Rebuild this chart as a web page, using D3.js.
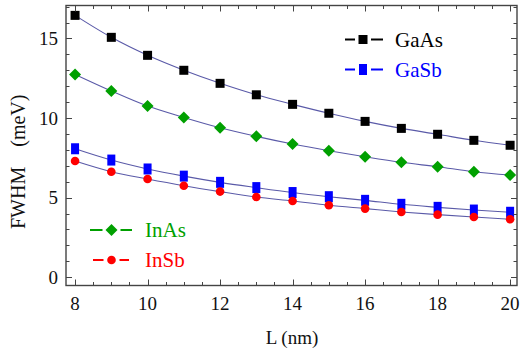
<!DOCTYPE html>
<html>
<head>
<meta charset="utf-8">
<script src="https://cdn.jsdelivr.net/npm/d3@7"></script>
<style>
  html, body { margin: 0; padding: 0; background: #fff; }
  svg { display: block; font-family: "Liberation Serif", "DejaVu Serif", serif; }
</style>
</head>
<body>
<svg id="chart" width="520" height="352"></svg>
<script>
// Well width L (nm)
const widths = [8, 9, 10, 11, 12, 13, 14, 15, 16, 17, 18, 19, 20];

// FWHM (meV) for each material
const gaAs = [16.45, 15.07, 13.94, 13.0, 12.18, 11.46, 10.86, 10.3, 9.79, 9.35, 8.98, 8.6, 8.29];
const inAs = [12.74, 11.7, 10.75, 10.04, 9.39, 8.85, 8.37, 7.95, 7.57, 7.22, 6.94, 6.63, 6.42];
const gaSb = [8.07, 7.36, 6.8, 6.35, 5.96, 5.63, 5.32, 5.06, 4.83, 4.58, 4.39, 4.22, 4.08];
const inSb = [7.3, 6.63, 6.17, 5.75, 5.38, 5.04, 4.79, 4.52, 4.31, 4.1, 3.93, 3.78, 3.64];

const xTicks = [8, 10, 12, 14, 16, 18, 20];
const yTicks = [0, 5, 10, 15];

const seriesNames = ["GaAs", "GaSb", "InAs", "InSb"];
const seriesValues = [gaAs, gaSb, inAs, inSb];

const svg = d3.select("#chart");
const plotLeft = 66, plotRight = 517, plotTop = 5.5, plotBottom = 285.5;

const x = d3.scaleLinear().domain([7.75, 20.19]).range([plotLeft, plotRight]);
const y = d3.scaleLinear().domain([-0.52, 17.07]).range([plotBottom, plotTop]);

const style = {
  GaAs: { color: "#000000", shape: "square" },
  GaSb: { color: "#0000ff", shape: "rect" },
  InAs: { color: "#00a000", shape: "diamond" },
  InSb: { color: "#ff0000", shape: "circle" }
};

function drawMarker(g, shape, color, cx, cy) {
  if (shape === "square") {
    g.append("rect").attr("x", cx - 4.5).attr("y", cy - 4.5).attr("width", 9).attr("height", 9).attr("fill", color);
  } else if (shape === "rect") {
    g.append("rect").attr("x", cx - 4).attr("y", cy - 5.5).attr("width", 8).attr("height", 11).attr("fill", color);
  } else if (shape === "diamond") {
    const r = 6;
    g.append("path").attr("d", `M${cx},${cy - r}L${cx + r},${cy}L${cx},${cy + r}L${cx - r},${cy}Z`).attr("fill", color);
  } else {
    g.append("circle").attr("cx", cx).attr("cy", cy).attr("r", 4.3).attr("fill", color);
  }
}

// Fitted curves through each series
const line = d3.line().x((d, i) => x(widths[i])).y(d => y(d)).curve(d3.curveMonotoneX);
const curves = svg.append("g");
seriesValues.forEach(vals => {
  curves.append("path").attr("d", line(vals))
    .attr("fill", "none").attr("stroke", "#5a5aa8").attr("stroke-width", 1.1);
});

// Markers
const marks = svg.append("g");
seriesNames.forEach((name, k) => {
  const s = style[name];
  seriesValues[k].forEach((v, i) => drawMarker(marks, s.shape, s.color, x(widths[i]), y(v)));
});

// Frame and ticks (mirrored on all four sides, pointing inward)
const frameColor = "#444";
const axes = svg.append("g").attr("stroke", frameColor).attr("stroke-width", 1);
axes.append("rect").attr("x", plotLeft).attr("y", plotTop)
  .attr("width", plotRight - plotLeft).attr("height", plotBottom - plotTop)
  .attr("fill", "none").attr("stroke-width", 1.4);

const xMinor = d3.range(8, 20.01, 0.5);
xMinor.forEach(t => {
  const major = xTicks.includes(t);
  const len = major ? 6 : 3.5;
  const px = Math.round(x(t)) + 0.5;
  axes.append("line").attr("x1", px).attr("x2", px).attr("y1", plotBottom).attr("y2", plotBottom - len);
  axes.append("line").attr("x1", px).attr("x2", px).attr("y1", plotTop).attr("y2", plotTop + len);
});
const yMinor = d3.range(0, 17.01, 1);
yMinor.forEach(t => {
  const major = yTicks.includes(t);
  const len = major ? 6 : 3.5;
  const py = Math.round(y(t)) + 0.5;
  axes.append("line").attr("y1", py).attr("y2", py).attr("x1", plotLeft).attr("x2", plotLeft + len);
  axes.append("line").attr("y1", py).attr("y2", py).attr("x1", plotRight).attr("x2", plotRight - len);
});

// Tick labels
const labels = svg.append("g").attr("fill", "#111").attr("font-size", 19);
xTicks.forEach(t => {
  labels.append("text").attr("x", x(t)).attr("y", 310).attr("text-anchor", "middle").text(t);
});
yTicks.forEach(t => {
  labels.append("text").attr("x", 58).attr("y", y(t) + 6.5).attr("text-anchor", "end").text(t);
});

// Axis titles
svg.append("text").attr("x", 292).attr("y", 344).attr("text-anchor", "middle")
  .attr("font-size", 19).attr("fill", "#111").text("L (nm)");
const yTitle = svg.append("text").attr("transform", "translate(25,229) rotate(-90)")
  .attr("text-anchor", "start").attr("font-size", 20).attr("fill", "#111");
yTitle.append("tspan").text("FWHM");
yTitle.append("tspan").attr("dx", 20).text("(meV)");

// Legends
const legendPos = {
  GaAs: { x0: 345, x1: 383, cx: 363, cy: 39.5, tx: 395 },
  GaSb: { x0: 345, x1: 383, cx: 363, cy: 69.5, tx: 395 },
  InAs: { x0: 90, x1: 132, cx: 111.5, cy: 230, tx: 145 },
  InSb: { x0: 93, x1: 129, cx: 111.5, cy: 260, tx: 145 }
};
const legend = svg.append("g");
seriesNames.forEach(name => {
  const s = style[name], p = legendPos[name];
  const gap = s.shape === "diamond" ? 9 : 8;
  legend.append("line").attr("x1", p.x0).attr("x2", p.cx - gap).attr("y1", p.cy).attr("y2", p.cy)
    .attr("stroke", s.color).attr("stroke-width", 2);
  legend.append("line").attr("x1", p.cx + gap).attr("x2", p.x1).attr("y1", p.cy).attr("y2", p.cy)
    .attr("stroke", s.color).attr("stroke-width", 2);
  drawMarker(legend, s.shape, s.color, p.cx, p.cy);
  legend.append("text").attr("x", p.tx).attr("y", p.cy + 7).attr("font-size", 21)
    .attr("fill", s.color).text(name);
});
</script>
</body>
</html>
